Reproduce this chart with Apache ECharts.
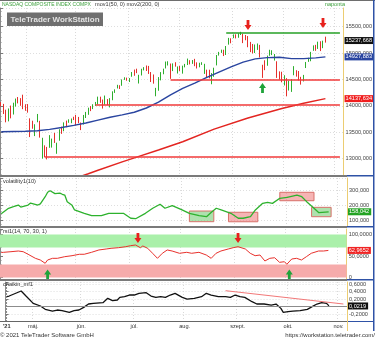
<!DOCTYPE html>
<html>
<head>
<meta charset="utf-8">
<script src="https://cdn.jsdelivr.net/npm/echarts@6/dist/echarts.min.js"></script>
<style>html,body{margin:0;padding:0;background:#fff}#c{width:375px;height:340px}</style>
</head>
<body>
<div id="c"></div>
<script>
// NASDAQ Composite, daily sessions 2021 (last days of Oct / early Nov are empty slots ahead)
const sessions = {
  '2021-04': [16,19,20,21,22,23,26,27,28,29,30],
  '2021-05': [3,4,5,6,7,10,11,12,13,14,17,18,19,20,21,24,25,26,27,28],
  '2021-06': [1,2,3,4,7,8,9,10,11,14,15,16,17,18,21,22,23,24,25,28,29,30],
  '2021-07': [1,2,6,7,8,9,12,13,14,15,16,19,20,21,22,23,26,27,28,29,30],
  '2021-08': [2,3,4,5,6,9,10,11,12,13,16,17,18,19,20,23,24,25,26,27,30,31],
  '2021-09': [1,2,3,7,8,9,10,13,14,15,16,17,20,21,22,23,24,27,28,29,30],
  '2021-10': [1,4,5,6,7,8,11,12,13,14,15,18,19,20,21,22,25,26,27,28,29],
  '2021-11': [1,2,3,4]
};

const tickDates  = ['2021-04-16','2021-05-03','2021-06-01','2021-07-01','2021-08-02','2021-09-01','2021-10-01','2021-11-01'];
const tickLabels = ["'21",'máj.','jún.','júl.','aug.','szept.','okt.','nov.'];

// [open, close, low, high]
const ohlc = [
  [14070,14052,13993,14072],[14010,13915,13846,14038],[13922,13786,13689,13928],[13716,13950,13707,13951],
  [13962,13818,13764,14006],[13844,13962,13836,14060],[13987,14139,13987,14139],[14168,14090,14047,14168],
  [14106,14051,14002,14147],[14166,14083,13938,14212],[13971,13963,13907,14031],
  [14023,13895,13872,14034],[13764,13634,13409,13764],[13715,13582,13567,13719],[13574,13633,13428,13652],
  [13690,13752,13690,13847],[13717,13402,13399,13717],[13087,13389,13002,13396],[13193,13032,13027,13253],
  [13175,13125,12986,13223],[13235,13430,13206,13446],[13336,13379,13210,13380],[13432,13304,13298,13488],
  [13109,13300,13093,13303],[13342,13536,13340,13558],[13568,13471,13470,13607],[13522,13661,13520,13688],
  [13705,13657,13597,13721],[13696,13738,13680,13746],[13709,13736,13672,13761],[13792,13749,13731,13794],
  [13818,13736,13632,13830],[13764,13756,13674,13791],[13640,13615,13541,13685],[13662,13814,13648,13828],
  [13805,13882,13770,13886],[13914,13925,13831,13966],[13963,13912,13901,13996],[13947,14020,13939,14031],
  [14022,14069,14000,14075],[14081,14174,14025,14175],[14168,14073,14058,14174],[14078,14040,13949,14120],
  [14032,14161,14021,14196],[14118,14030,14016,14129],[14030,14141,13971,14147],[14122,14253,14107,14276],
  [14263,14272,14246,14313],[14339,14370,14330,14399],[14385,14360,14320,14391],[14383,14501,14381,14501],
  [14515,14528,14492,14542],[14516,14504,14476,14535],
  [14510,14522,14452,14527],[14552,14639,14552,14641],[14670,14664,14570,14688],[14703,14665,14620,14704],
  [14450,14560,14424,14589],[14586,14702,14576,14703],[14723,14733,14672,14734],[14702,14678,14661,14765],
  [14720,14645,14605,14757],[14641,14543,14452,14641],[14588,14427,14421,14595],[14272,14275,14182,14341],
  [14323,14499,14287,14545],[14523,14632,14483,14640],[14645,14685,14599,14705],[14719,14837,14709,14840],
  [14818,14841,14765,14845],[14801,14661,14512,14802],[14700,14763,14659,14805],[14787,14778,14743,14827],
  [14663,14673,14613,14747],
  [14741,14681,14661,14756],[14696,14761,14611,14762],[14733,14781,14730,14795],[14777,14895,14774,14896],
  [14863,14836,14786,14865],[14841,14860,14796,14868],[14888,14788,14752,14891],[14825,14765,14708,14825],
  [14762,14816,14731,14817],[14815,14823,14776,14827],[14783,14794,14606,14797],[14686,14656,14543,14686],
  [14635,14526,14521,14685],[14420,14542,14410,14621],[14567,14715,14551,14723],[14770,14943,14767,14964],
  [14966,15020,14953,15023],[15023,15042,15004,15065],[15030,14946,14944,15063],[14973,15130,14964,15134],
  [15164,15266,15160,15288],[15279,15259,15186,15280],
  [15290,15309,15283,15354],[15344,15331,15278,15355],[15308,15364,15290,15374],[15367,15374,15343,15403],
  [15364,15287,15189,15364],[15290,15248,15243,15343],[15302,15115,15111,15323],[15201,15106,15018,15212],
  [15173,15038,14994,15173],[15034,15162,15001,15163],[15134,15182,15060,15182],[15155,14962,14917,15155],
  [14758,14714,14530,14779],[14836,14746,14676,14864],[14786,14897,14760,14953],[14949,15052,14949,15063],
  [14980,15048,14962,15054],[14917,14970,14859,14983],[14845,14547,14530,14845],[14612,14512,14498,14654],
  [14603,14449,14447,14646],
  [14475,14567,14387,14581],[14511,14255,14181,14525],[14291,14434,14291,14479],[14332,14502,14265,14506],
  [14595,14654,14580,14753],[14666,14580,14554,14675],[14574,14486,14482,14661],[14495,14466,14403,14550],
  [14523,14572,14463,14587],[14722,14823,14717,14832],[14874,14897,14834,14911],[14860,15022,14846,15023],
  [15052,15129,15043,15146],[15143,15122,15043,15156],[15082,15216,15079,15216],[15181,15090,15038,15224],
  [15129,15227,15093,15235],[15292,15237.668,15198,15311]
];

// mov1(50) and mov2(200)
const mov50 = [
  ['2021-04-16',13510],['2021-04-23',13515],['2021-04-30',13520],['2021-05-07',13530],['2021-05-14',13555],
  ['2021-05-21',13590],['2021-05-28',13630],['2021-06-07',13675],['2021-06-14',13730],['2021-06-21',13785],
  ['2021-06-28',13830],['2021-07-06',13880],['2021-07-13',13960],['2021-07-20',14070],['2021-07-27',14210],
  ['2021-08-03',14330],['2021-08-10',14430],['2021-08-17',14540],['2021-08-24',14640],['2021-08-31',14740],
  ['2021-09-08',14830],['2021-09-15',14890],['2021-09-22',14915],['2021-09-29',14920],['2021-10-06',14895],
  ['2021-10-13',14895],['2021-10-20',14910],['2021-10-26',14927.883]
];
const mov200 = [
  ['2021-05-28',12620],['2021-06-08',12715],['2021-06-14',12780],['2021-06-28',12940],['2021-07-07',13030],
  ['2021-07-20',13165],['2021-08-03',13320],['2021-08-20',13560],['2021-09-10',13770],['2021-09-30',13950],
  ['2021-10-13',14050],['2021-10-26',14137.634]
];

const volatility = [
  ['2021-04-16',145],['2021-04-21',181],['2021-04-23',191],['2021-04-27',202],['2021-04-28',189],
  ['2021-05-03',202],['2021-05-04',215],['2021-05-07',202],['2021-05-10',210],['2021-05-12',256],
  ['2021-05-13',285],['2021-05-14',295],['2021-05-18',276],['2021-05-20',280],['2021-05-21',272],
  ['2021-05-24',267],['2021-05-25',224],['2021-05-27',200],['2021-05-28',170],['2021-06-04',148],
  ['2021-06-09',133],['2021-06-15',133],['2021-06-18',148],['2021-06-23',148],['2021-06-28',148],
  ['2021-07-01',116],['2021-07-06',113],['2021-07-12',148],['2021-07-15',181],['2021-07-20',207],
  ['2021-07-22',181],['2021-07-27',198],['2021-08-02',170],['2021-08-05',148],['2021-08-11',133],
  ['2021-08-16',126],['2021-08-18',155],['2021-08-20',181],['2021-08-24',170],['2021-08-30',148],
  ['2021-09-02',116],['2021-09-07',116],['2021-09-10',126],['2021-09-14',170],['2021-09-17',213],
  ['2021-09-21',220],['2021-09-23',213],['2021-09-28',246],['2021-10-01',252],['2021-10-07',267],
  ['2021-10-11',256],['2021-10-13',224],['2021-10-18',181],['2021-10-20',152],['2021-10-26',158.042]
];

const rsi = [
  ['2021-04-16',58],['2021-04-19',58.6],['2021-04-22',60],['2021-04-27',61.6],['2021-04-29',60],
  ['2021-05-03',54],['2021-05-06',44.6],['2021-05-10',40.7],['2021-05-12',33],['2021-05-13',40.7],
  ['2021-05-17',44.6],['2021-05-19',44.6],['2021-05-24',48.4],['2021-05-27',50.7],['2021-06-02',54],
  ['2021-06-04',54],['2021-06-09',58.6],['2021-06-14',64],['2021-06-17',66.3],['2021-06-21',67.9],
  ['2021-06-24',69.3],['2021-06-29',71.6],['2021-07-01',74],['2021-07-06',75.6],['2021-07-08',69.3],
  ['2021-07-09',73.3],['2021-07-13',67.9],['2021-07-15',56.3],['2021-07-19',44.6],['2021-07-21',56.3],
  ['2021-07-23',64],['2021-07-27',61.6],['2021-07-30',56.3],['2021-08-04',58.6],['2021-08-06',56.3],
  ['2021-08-11',58.6],['2021-08-16',52.3],['2021-08-18',44.6],['2021-08-20',56.3],['2021-08-24',61.6],
  ['2021-08-27',66.3],['2021-08-31',69.3],['2021-09-02',71.6],['2021-09-08',66.3],['2021-09-10',56.3],
  ['2021-09-14',50.7],['2021-09-16',52.3],['2021-09-20',38.4],['2021-09-22',44.6],['2021-09-24',46],
  ['2021-09-28',35.3],['2021-09-30',36.7],['2021-10-01',30.7],['2021-10-05',43],['2021-10-07',44.6],
  ['2021-10-11',40.7],['2021-10-13',48.4],['2021-10-15',56.3],['2021-10-20',61.6],['2021-10-22',61.6],
  ['2021-10-26',62.9652]
];

const chaikin = [
  ['2021-04-16',0.27],['2021-04-19',0.285],['2021-04-26',0.419],['2021-04-28',0.285],['2021-05-03',0.09],
  ['2021-05-06',0.019],['2021-05-10',-0.07],['2021-05-13',-0.115],['2021-05-17',-0.088],['2021-05-19',-0.106],
  ['2021-05-24',-0.15],['2021-05-26',-0.106],['2021-05-28',-0.088],['2021-06-02',-0.017],['2021-06-04',0.072],
  ['2021-06-08',0.09],['2021-06-14',0.108],['2021-06-16',0.223],['2021-06-18',0.161],['2021-06-22',0.179],
  ['2021-06-23',0.25],['2021-06-25',0.267],['2021-06-29',0.312],['2021-07-01',0.312],['2021-07-06',0.357],
  ['2021-07-09',0.373],['2021-07-13',0.285],['2021-07-15',0.25],['2021-07-19',0.267],['2021-07-21',0.25],
  ['2021-07-23',0.312],['2021-07-27',0.357],['2021-07-30',0.25],['2021-08-03',0.205],['2021-08-06',0.223],
  ['2021-08-11',0.267],['2021-08-13',0.357],['2021-08-17',0.312],['2021-08-20',0.267],['2021-08-25',0.267],
  ['2021-08-27',0.25],['2021-08-31',0.312],['2021-09-02',0.267],['2021-09-07',0.25],['2021-09-10',0.134],
  ['2021-09-14',0.072],['2021-09-17',0.072],['2021-09-22',0.045],['2021-09-24',0.072],['2021-09-28',-0.044],
  ['2021-09-29',-0.15],['2021-10-01',-0.132],['2021-10-05',-0.115],['2021-10-08',-0.106],['2021-10-13',-0.07],
  ['2021-10-15',0.001],['2021-10-19',0.072],['2021-10-21',0.108],['2021-10-25',0.09],['2021-10-26',0.0219]
];

// drawn levels and trend lines
const resistance = 15394;
const supports = [[ '2021-07-27', 14504 ], [ '2021-06-11', 14025 ], [ '2021-05-12', 13030 ]];
const lineEnd = '2021-11-03';
const chaikinTrend = [['2021-08-25', 0.427], ['2021-11-03', 0.072]];
// signal arrows [date, level]
const priceSells = [['2021-09-10', 15532], ['2021-10-25', 15570]];
const priceBuys  = [['2021-09-20', 14339]];
const rsiSells   = [['2021-07-07', 91.9], ['2021-09-02', 91.9]];
const rsiBuys    = [['2021-05-13', 7], ['2021-10-04', 7]];
// volatility boxes [from, to, low, high, kind]
const volBoxes = [
  ['2021-08-05', '2021-08-19', 93.5, 163, 'g'],
  ['2021-08-27', '2021-09-15', 93, 155, 'r'],
  ['2021-09-28', '2021-10-18', 230, 285, 'r'],
  ['2021-10-15', '2021-10-27', 126, 187, 'g']
];
// last values shown in the axis column
const lastPrice = 15237.668, lastMov50 = 14927.883, lastMov200 = 14137.634;
const lastVol = 158.042, lastRsi = 62.9652, lastChaikin = 0.0219;

const dates = [];
Object.keys(sessions).forEach(ym => sessions[ym].forEach(d => dates.push(ym + '-' + String(d).padStart(2, '0'))));

const FONT = '"Liberation Sans", Arial, sans-serif';
const UP = '#2eae2e', DOWN = '#e5302c', BLUE = '#2a45a0', RED = '#e32521', GREEN = '#26a026';
const FS = 5.6;

const DOWN_ARROW = 'path://M3,0 L7,0 L7,6 L10,6 L5,12 L0,6 L3,6 Z';
const UP_ARROW = 'path://M5,0 L10,6 L7,6 L7,12 L3,12 L3,6 L0,6 Z';

const comma = (v, d) => Math.abs(v) < 1e-9 ? '0' : v.toFixed(d).replace('.', ',');

// value tag drawn at the right end of an invisible horizontal line
function tag(value, digits, bg) {
  return {
    yAxis: value,
    lineStyle: { color: 'rgba(0,0,0,0)', width: 1, type: 'solid' },
    label: {
      show: true, position: 'end', distance: 1, formatter: comma(value, digits),
      color: '#fff', backgroundColor: bg, padding: [1, 2, 0, 1],
      fontSize: FS, fontFamily: FONT
    }
  };
}

function arrows(list, up) {
  return list.map(([d, v]) => ({
    coord: [d, v], symbol: up ? UP_ARROW : DOWN_ARROW, symbolSize: [7, 10],
    itemStyle: { color: up ? '#1fa33a' : '#e8211c' }
  }));
}

const monthStart = new Set(tickDates.slice(1));
const tickText = {};
tickDates.forEach((d, i) => { tickText[d] = tickLabels[i]; });

function xAxis(gi, labels) {
  return {
    type: 'category', gridIndex: gi, data: dates, boundaryGap: true,
    axisLine: { show: false }, axisTick: { show: false },
    axisLabel: labels ? {
      show: true, margin: 2, fontSize: FS, color: '#333', fontFamily: FONT,
      interval: (i, v) => tickText[v] !== undefined,
      formatter: v => v === dates[0] ? '{y|' + tickText[v] + '}' : tickText[v],
      rich: { y: { fontWeight: 'bold', fontSize: FS, fontFamily: FONT, color: '#333' } }
    } : { show: false },
    splitLine: { show: true, interval: (i, v) => monthStart.has(v), lineStyle: { color: '#d9d9d9', type: [1, 2], width: 1 } }
  };
}

function yAxes(gi, min, max, splitNumber, digits, grid) {
  return [{
    type: 'value', gridIndex: gi, position: 'right', min, max, splitNumber, scale: true,
    axisLine: { show: true, lineStyle: { color: '#eccd72', width: 1 } },
    axisTick: { show: false },
    axisLabel: { show: true, margin: 2, fontSize: FS, color: '#444', fontFamily: FONT,
      showMinLabel: false, showMaxLabel: false, formatter: v => comma(v, digits) },
    splitLine: { show: grid, lineStyle: { color: '#dedede', type: [1, 2], width: 1 } }
  }, {
    type: 'value', gridIndex: gi, position: 'left', min, max, splitNumber, scale: true,
    axisLine: { show: true, lineStyle: { color: '#8a8a8a' } },
    axisTick: { show: true, inside: true, length: 3, lineStyle: { color: '#7a7a7a' } },
    minorTick: { show: true, splitNumber: 5, length: 1.5, lineStyle: { color: '#8a8a8a' } },
    axisLabel: { show: false }, splitLine: { show: false }
  }];
}

const txt = (x, y, text, o) => ({
  type: 'text', x, y, z: 100, silent: true,
  style: Object.assign({ text, fontSize: FS, fontFamily: FONT, fill: '#333', verticalAlign: 'middle' }, o || {})
});
const box = (x, y, w, h, fill) => ({ type: 'rect', z: 100, silent: true, shape: { x, y, width: w, height: h }, style: { fill } });

const option = {
  animation: false,
  backgroundColor: '#fff',
  grid: [
    { left: 0, width: 347, top: 8, height: 167 },
    { left: 0, width: 347, top: 178, height: 48 },
    { left: 0, width: 347, top: 229, height: 50 },
    { left: 0, width: 347, top: 282, height: 39 }
  ],
  xAxis: [xAxis(0, false), xAxis(1, false), xAxis(2, false), xAxis(3, true)],
  yAxis: [].concat(
    yAxes(0, 12691, 15854, 5, 3, true),
    yAxes(1, 65.5, 378, 3, 3, true),
    yAxes(2, -3.5, 112.8, 2, 4, false),
    yAxes(3, -0.381, 0.659, 5, 4, true)
  ),
  series: [
    {
      type: 'candlestick', xAxisIndex: 0, yAxisIndex: 0, data: ohlc, barWidth: 1.2, z: 2,
      itemStyle: { color: UP, color0: DOWN, borderColor: UP, borderColor0: DOWN, borderWidth: 1 },
      markLine: {
        silent: true, symbol: 'none', animation: false, label: { show: false },
        data: [
          [{ coord: ['2021-08-27', resistance], lineStyle: { color: GREEN, width: 1.5, type: 'solid' } },
           { coord: [lineEnd, resistance], lineStyle: { color: GREEN, width: 1.5, type: 'solid' } }]
        ].concat(supports.map(([d, v]) => [
          { coord: [d, v], lineStyle: { color: '#f03a3a', width: 1.6, type: 'solid' } },
          { coord: [lineEnd, v], lineStyle: { color: '#f03a3a', width: 1.6, type: 'solid' } }
        ])).concat([tag(lastPrice, 3, '#111')])
      },
      markPoint: { silent: true, label: { show: false }, data: arrows(priceSells, false).concat(arrows(priceBuys, true)) }
    },
    {
      type: 'line', xAxisIndex: 0, yAxisIndex: 0, data: mov50, showSymbol: false, z: 3,
      lineStyle: { color: BLUE, width: 1.4 },
      markLine: { silent: true, symbol: 'none', data: [tag(lastMov50, 3, BLUE)] }
    },
    {
      type: 'line', xAxisIndex: 0, yAxisIndex: 0, data: mov200, showSymbol: false, z: 3,
      lineStyle: { color: RED, width: 1.5 },
      markLine: { silent: true, symbol: 'none', data: [tag(lastMov200, 3, '#f01e1e')] }
    },
    {
      type: 'line', xAxisIndex: 1, yAxisIndex: 2, data: volatility, showSymbol: false, z: 3,
      lineStyle: { color: '#2db22d', width: 1.3 },
      markArea: {
        silent: true,
        data: volBoxes.map(([a, b, lo, hi, k]) => [
          { coord: [a, hi], itemStyle: { color: k === 'g' ? 'rgba(120,205,120,0.6)' : 'rgba(240,130,130,0.6)', borderColor: '#d8706a', borderWidth: 1 } },
          { coord: [b, lo] }
        ])
      },
      markLine: { silent: true, symbol: 'none', data: [tag(lastVol, 3, '#23a323')] }
    },
    {
      type: 'line', xAxisIndex: 2, yAxisIndex: 4, data: rsi, showSymbol: false, z: 3,
      lineStyle: { color: '#e8312c', width: 1 },
      markArea: {
        silent: true,
        data: [
          [{ yAxis: 70, itemStyle: { color: '#aaf0aa' } }, { yAxis: 100 }],
          [{ yAxis: 0, itemStyle: { color: '#f6abab' } }, { yAxis: 30 }]
        ]
      },
      markLine: { silent: true, symbol: 'none', data: [tag(lastRsi, 4, '#f02424')] },
      markPoint: { silent: true, label: { show: false }, data: arrows(rsiSells, false).concat(arrows(rsiBuys, true)) }
    },
    {
      type: 'line', xAxisIndex: 3, yAxisIndex: 6, data: chaikin, showSymbol: false, z: 3,
      lineStyle: { color: '#111', width: 1.3 },
      markLine: {
        silent: true, symbol: 'none', label: { show: false },
        data: [
          { yAxis: 0, lineStyle: { color: '#8c8c8c', width: 1, type: 'solid' } },
          [{ coord: chaikinTrend[0], lineStyle: { color: '#f27878', width: 1, type: 'solid' } },
           { coord: chaikinTrend[1], lineStyle: { color: '#f27878', width: 1, type: 'solid' } }],
          tag(lastChaikin, 4, '#111')
        ]
      }
    }
  ],
  graphic: [
    box(0, 0, 375, 1, '#6e6e6e'),
    txt(2, 4.5, 'NASDAQ COMPOSITE INDEX COMPX', { fill: '#3a9e3a', fontSize: 5 }),
    txt(95, 4.5, 'mov1(50, 0) mov2(200, 0)', { fill: '#3a3a3a' }),
    txt(345, 4.5, 'naponta', { fill: '#3a9e3a', align: 'right' }),
    box(7, 12.5, 96, 13.5, '#6f6f6f'),
    txt(55, 19.5, 'TeleTrader WorkStation', { fill: '#e2e2e2', fontWeight: 'bold', fontSize: 8, align: 'center' }),
    box(0, 175, 347, 2, '#7a7a7a'),
    box(0, 226, 347, 2, '#7a7a7a'),
    box(0, 279, 347, 2, '#7a7a7a'),
    box(0, 321, 347, 1, '#666'),
    box(347, 175, 27, 1.5, '#2f52a6'),
    box(347, 226, 27, 1.5, '#2f52a6'),
    box(347, 279, 27, 1.5, '#2f52a6'),
    box(347, 321, 27, 1, '#2f52a6'),
    box(373, 0, 1.5, 331, '#2f52a6'),
    box(347, 321, 1, 10, '#eccd72'),
    txt(3, 181.5, 'volatility1(10)'),
    txt(3, 231, 'rsi1(14, 70, 30, 1)'),
    txt(3, 284.5, 'chaikin_mf1'),
    txt(0, 335.5, '© 2021 TeleTrader Software GmbH', { fontSize: 6, fill: '#333' }),
    txt(375, 335.5, 'https://workstation.teletrader.com/', { fontSize: 6, fill: '#333', align: 'right' })
  ]
};

const chart = echarts.init(document.getElementById('c'), null, { renderer: 'canvas' });
chart.setOption(option);
</script>
</body>
</html>
